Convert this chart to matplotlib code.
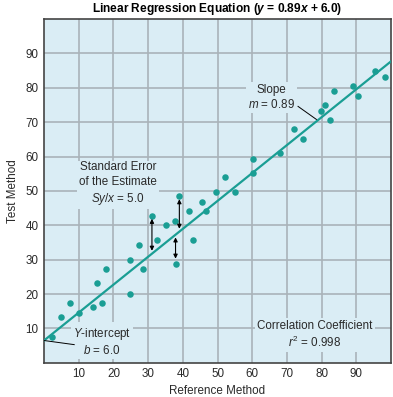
import matplotlib.pyplot as plt

plt.rcParams['font.family'] = 'Liberation Sans'
plt.rcParams['mathtext.fontset'] = 'custom'
plt.rcParams['mathtext.rm'] = 'Liberation Sans'
plt.rcParams['mathtext.it'] = 'Liberation Sans:italic'
plt.rcParams['mathtext.bf'] = 'Liberation Sans:bold'
plt.rcParams['mathtext.bfit'] = 'Liberation Sans:bold:italic'

# data
ref_x = [2.4, 4.8, 7.4, 10.1, 14.1, 15.3, 16.7, 18.0, 24.7, 24.7, 27.3, 28.6,
         31.1, 32.5, 35.1, 37.7, 37.9, 39.0, 41.7, 43.0, 45.6, 46.8, 49.5,
         52.2, 55.0, 60.1, 60.1, 68.0, 71.9, 74.5, 79.7, 81.1, 82.4, 83.7,
         89.0, 90.5, 95.3, 98.2]
test_y = [7.5, 13.4, 17.4, 14.6, 16.2, 23.1, 17.5, 27.3, 20.1, 30.0, 34.4, 27.3,
          42.7, 35.8, 40.0, 41.3, 28.8, 48.4, 44.2, 35.8, 46.9, 44.3, 49.8,
          54.0, 49.8, 59.3, 55.2, 60.9, 67.9, 65.1, 73.4, 74.9, 70.7, 79.0,
          80.4, 77.6, 85.0, 83.2]

# regression line as drawn in the figure
line_x = [0, 100]
line_y = [6.5, 87.7]

# residual arrows (x, point y, line y)
arrow_x = [31.1, 39.0, 37.9]
arrow_pt = [42.7, 48.4, 28.8]
arrow_ln = [31.8, 38.2, 37.3]

ticks = [10, 20, 30, 40, 50, 60, 70, 80, 90]

teal = '#1a9e94'
bg = '#daedf5'
txt = '#2a2a2a'

fig = plt.figure(figsize=(3.93, 3.97), dpi=100)
ax = fig.add_axes([0.112, 0.086, 0.883, 0.866])
ax.set_facecolor(bg)

ax.plot(line_x, line_y, color=teal, lw=1.6, zorder=3)
ax.scatter(ref_x, test_y, s=22, color=teal, zorder=4, linewidths=0)

for x, p, l in zip(arrow_x, arrow_pt, arrow_ln):
    if p > l:
        a, b = p - 0.8, l + 0.8
    else:
        a, b = p + 1.5, l - 0.8
    ax.annotate('', xy=(x, a), xytext=(x, b),
                arrowprops=dict(arrowstyle='<|-|>', color='black', lw=0.8,
                                mutation_scale=6, shrinkA=0, shrinkB=0),
                zorder=5)

ax.set_xlim(0, 100)
ax.set_ylim(0, 100)
ax.set_xticks(ticks)
ax.set_yticks(ticks)
ax.grid(True, color='#a9b3b9', lw=1.2)
ax.set_axisbelow(True)
ax.tick_params(length=0, labelsize=8.4, colors=txt, pad=4)
for s in ax.spines.values():
    s.set_color('#444444')
    s.set_linewidth(1.2)

ax.set_xlabel('Reference Method', fontsize=8.4, color=txt, labelpad=3)
ax.set_ylabel('Test Method', fontsize=8.4, color=txt, labelpad=5)
ax.set_title(r'Linear Regression Equation ($\mathbfit{y}$ = 0.89$\mathbfit{x}$ + 6.0)',
             fontsize=8.6, fontweight='bold', pad=5)

box = dict(facecolor=bg, edgecolor='none', pad=1.5)
ax.text(65.5, 77.2, 'Slope\n$m$ = 0.89', ha='center', va='center',
        fontsize=8.4, color=txt, bbox=box, zorder=2)
ax.plot([73.2, 78.5], [74.6, 70.8], color='black', lw=0.7, zorder=3)

ax.text(21.3, 52.0, 'Standard Error\nof the Estimate\n$Sy/x$ = 5.0',
        ha='center', va='center', fontsize=8.4, color=txt,
        bbox=box, zorder=2, linespacing=1.3)

ax.text(16.7, 6.1, '$Y$-intercept\n$b$ = 6.0', ha='center', va='center',
        fontsize=8.4, color=txt, bbox=box, zorder=2)
ax.plot([0, 8.7], [6.5, 5.3], color='black', lw=0.7, zorder=3)

ax.text(78.1, 8.1, 'Correlation Coefficient\n$r^2$ = 0.998', ha='center',
        va='center', fontsize=8.4, color=txt, bbox=box, zorder=2)

fig.savefig('out.png', dpi=100)
